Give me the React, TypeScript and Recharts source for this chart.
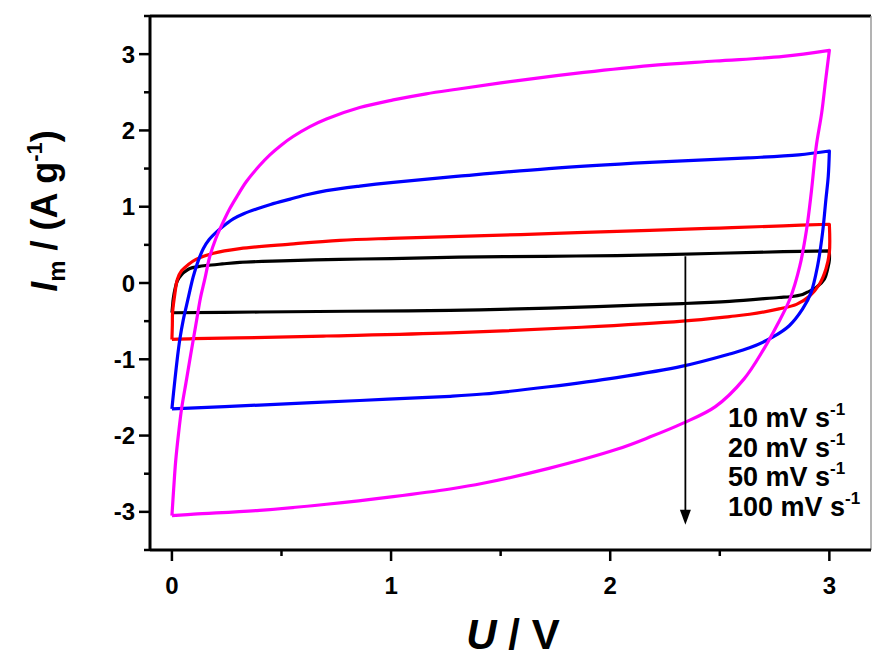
import {
  LineChart,
  Line,
  XAxis,
  YAxis,
  ReferenceLine,
} from "recharts";

// cyclic voltammograms, [U (V), I_m (A/g)], forward scan then reverse scan
const cv10: [number, number][] = [
  [0, -0.39], [0.003, -0.3], [0.006, -0.21], [0.014, -0.08], [0.025, 0.03], [0.044, 0.11],
  [0.06, 0.15], [0.082, 0.19], [0.12, 0.215], [0.158, 0.23], [0.23, 0.25], [0.31, 0.27],
  [0.5, 0.29], [0.766, 0.31], [1.0, 0.32], [1.31, 0.34], [1.7, 0.35], [2.03, 0.36],
  [2.5, 0.39], [2.79, 0.41], [3.0, 0.42],
  [3.0, 0.3], [2.995, 0.22], [2.977, 0.05], [2.94, -0.06], [2.9, -0.12], [2.878, -0.15],
  [2.82, -0.18], [2.77, -0.19], [2.545, -0.24], [2.33, -0.27], [2.03, -0.3], [1.72, -0.33],
  [1.27, -0.36], [0.8, -0.37], [0.4, -0.38], [0, -0.39],
];

const cv20: [number, number][] = [
  [0, -0.74], [0.002, -0.55], [0.003, -0.39], [0.014, -0.13], [0.025, 0.05], [0.044, 0.16],
  [0.074, 0.24], [0.11, 0.31], [0.19, 0.39], [0.31, 0.45], [0.54, 0.51], [0.766, 0.56],
  [1.0, 0.585], [1.31, 0.61], [1.75, 0.65], [2.18, 0.69], [2.5, 0.72], [2.79, 0.75], [3.0, 0.77],
  [3.0, 0.4], [2.984, 0.18], [2.954, -0.02], [2.91, -0.17], [2.85, -0.28], [2.77, -0.34],
  [2.636, -0.41], [2.545, -0.44], [2.33, -0.5], [1.87, -0.58], [1.27, -0.655], [0.705, -0.695],
  [0.3, -0.72], [0.1, -0.73], [0, -0.74],
];

const cv50: [number, number][] = [
  [0, -1.65], [0.007, -1.45], [0.014, -1.26], [0.025, -0.98], [0.036, -0.74], [0.052, -0.48],
  [0.067, -0.29], [0.082, -0.1], [0.097, 0.08], [0.12, 0.29], [0.143, 0.45], [0.17, 0.57],
  [0.204, 0.67], [0.25, 0.78], [0.28, 0.84], [0.33, 0.91], [0.386, 0.97], [0.45, 1.03],
  [0.54, 1.1], [0.62, 1.16], [0.705, 1.21], [0.857, 1.27], [1.01, 1.32], [1.31, 1.4],
  [1.72, 1.5], [2.18, 1.58], [2.63, 1.64], [2.86, 1.68], [3.0, 1.73],
  [2.995, 1.4], [2.984, 1.09], [2.969, 0.66], [2.946, 0.22], [2.916, -0.13], [2.878, -0.34],
  [2.817, -0.56], [2.741, -0.71], [2.636, -0.85], [2.545, -0.93], [2.33, -1.09], [2.03, -1.24],
  [1.72, -1.36], [1.42, -1.455], [1.27, -1.485], [0.857, -1.54], [0.4, -1.6], [0, -1.65],
];

const cv100: [number, number][] = [
  [0, -3.05], [0.008, -2.7], [0.017, -2.34], [0.03, -1.98], [0.044, -1.65], [0.067, -1.26],
  [0.085, -0.95], [0.1, -0.7], [0.115, -0.45], [0.13, -0.2], [0.15, 0.05], [0.173, 0.35],
  [0.2, 0.58], [0.234, 0.8], [0.265, 0.98], [0.3, 1.15], [0.34, 1.33], [0.4, 1.54],
  [0.447, 1.68], [0.5, 1.81], [0.553, 1.92], [0.63, 2.05], [0.705, 2.15], [0.857, 2.3],
  [1.01, 2.4], [1.16, 2.48], [1.3, 2.54], [1.57, 2.65], [1.88, 2.76], [2.18, 2.85],
  [2.48, 2.91], [2.79, 2.97], [3.0, 3.05],
  [2.983, 2.66], [2.965, 2.23], [2.94, 1.79], [2.918, 1.2], [2.896, 0.7], [2.865, 0.22],
  [2.82, -0.21], [2.76, -0.56], [2.7, -0.87], [2.61, -1.26], [2.48, -1.62], [2.33, -1.84],
  [2.18, -2.02], [2.03, -2.18], [1.72, -2.43], [1.42, -2.625], [1.27, -2.7], [1.01, -2.8],
  [0.705, -2.9], [0.4, -2.98], [0.1, -3.03], [0, -3.05],
];

const scanRates = ["10", "20", "50", "100"];
const colors = ["#000000", "#ff0000", "#0000ff", "#ff00ff"];
const loops = [cv10, cv20, cv50, cv100];

const xTicks = [0, 0.5, 1, 1.5, 2, 2.5, 3];
const yTicks = [-3.5, -3, -2.5, -2, -1.5, -1, -0.5, 0, 0.5, 1, 1.5, 2, 2.5, 3, 3.5];

// arrow marking increasing scan rate
const arrowU = 2.343;
const arrowFrom = 0.35;
const arrowTo = -3.17;

const FONT = "'Liberation Sans', Arial, Helvetica, sans-serif";

// centripetal catmull-rom; points where the path turns sharply (scan reversal)
// are kept as real corners so the curve does not bulge past them
function smoothLoop(context: any) {
  let pts: [number, number][] = [];
  const isCorner = (k: number) => {
    if (k <= 0 || k >= pts.length - 1) return true;
    const [ax, ay] = pts[k - 1];
    const [bx, by] = pts[k];
    const [cx, cy] = pts[k + 1];
    const ux = bx - ax, uy = by - ay, vx = cx - bx, vy = cy - by;
    const lu = Math.hypot(ux, uy), lv = Math.hypot(vx, vy);
    if (lu < 1e-6 || lv < 1e-6) return true;
    return (ux * vx + uy * vy) / (lu * lv) < 0.6;
  };
  return {
    areaStart() {},
    areaEnd() {},
    lineStart() {
      pts = [];
    },
    point(x: number, y: number) {
      pts.push([+x, +y]);
    },
    lineEnd() {
      const n = pts.length;
      if (!n) return;
      context.moveTo(pts[0][0], pts[0][1]);
      for (let k = 0; k < n - 1; k++) {
        const p1 = pts[k];
        const p2 = pts[k + 1];
        const p0 = isCorner(k) ? p1 : pts[k - 1];
        const p3 = isCorner(k + 1) ? p2 : pts[k + 2];
        const l01 = Math.hypot(p1[0] - p0[0], p1[1] - p0[1]);
        const l12 = Math.hypot(p2[0] - p1[0], p2[1] - p1[1]);
        const l23 = Math.hypot(p3[0] - p2[0], p3[1] - p2[1]);
        const a01 = Math.sqrt(l01), a12 = Math.sqrt(l12), a23 = Math.sqrt(l23);
        let c1x = p1[0], c1y = p1[1], c2x = p2[0], c2y = p2[1];
        if (a01 > 1e-6) {
          const a = 2 * l01 + 3 * a01 * a12 + l12;
          const m = 3 * a01 * (a01 + a12);
          c1x = (p1[0] * a - p0[0] * l12 + p2[0] * l01) / m;
          c1y = (p1[1] * a - p0[1] * l12 + p2[1] * l01) / m;
        }
        if (a23 > 1e-6) {
          const b = 2 * l23 + 3 * a23 * a12 + l12;
          const m = 3 * a23 * (a23 + a12);
          c2x = (p2[0] * b + p1[0] * l23 - p3[0] * l12) / m;
          c2y = (p2[1] * b + p1[1] * l23 - p3[1] * l12) / m;
        }
        context.bezierCurveTo(c1x, c1y, c2x, c2y, p2[0], p2[1]);
      }
    },
  };
}

function XTick(props: any) {
  const { x, y, payload } = props;
  const v = payload.value as number;
  const major = Number.isInteger(v);
  return (
    <g>
      <line x1={x} y1={y} x2={x} y2={y + (major ? 11 : 6)} stroke="#000" strokeWidth={2.5} />
      {major && (
        <text x={x} y={y + 44} textAnchor="middle" fontFamily={FONT} fontWeight="bold" fontSize={24} fill="#000">
          {v}
        </text>
      )}
    </g>
  );
}

function YTick(props: any) {
  const { x, y, payload } = props;
  const v = payload.value as number;
  const major = Number.isInteger(v);
  return (
    <g>
      <line x1={x - (major ? 11 : 6)} y1={y} x2={x} y2={y} stroke="#000" strokeWidth={2.5} />
      {major && (
        <text x={x - 15} y={y + 8.5} textAnchor="end" fontFamily={FONT} fontWeight="bold" fontSize={24} fill="#000">
          {v}
        </text>
      )}
    </g>
  );
}

function Arrow(props: any) {
  const { x1, y1, x2, y2 } = props;
  return (
    <g>
      <line x1={x1} y1={y1} x2={x2} y2={y2 - 12} stroke="#000" strokeWidth={1.8} />
      <polygon points={`${x2 - 5.5},${y2 - 15} ${x2 + 5.5},${y2 - 15} ${x2},${y2}`} fill="#000" />
    </g>
  );
}

export default function App() {
  return (
    <div style={{ position: "absolute", left: 0, top: 0, width: 872, height: 661, background: "#fff" }}>
      <LineChart width={872} height={661} margin={{ top: 16, right: 1, bottom: 51, left: 70 }}>
        <XAxis
          type="number"
          dataKey="u"
          domain={[-0.1, 3.19]}
          allowDataOverflow
          ticks={xTicks}
          interval={0}
          tickSize={0}
          tickMargin={0}
          tickLine={false}
          tick={<XTick />}
          axisLine={{ stroke: "#000", strokeWidth: 3 }}
          height={60}
        />
        <YAxis
          type="number"
          dataKey="i"
          domain={[-3.5, 3.5]}
          allowDataOverflow
          ticks={yTicks}
          interval={0}
          tickSize={0}
          tickMargin={0}
          tickLine={false}
          tick={<YTick />}
          axisLine={{ stroke: "#000", strokeWidth: 3 }}
          width={80}
        />
        <ReferenceLine y={3.5} stroke="#000" strokeWidth={3} />
        <ReferenceLine x={3.19} stroke="#9a9a9a" strokeWidth={1.5} />
        {loops.map((loop, k) => (
          <Line
            key={scanRates[k]}
            data={loop.map(([u, i]) => ({ u, i }))}
            dataKey="i"
            type={smoothLoop as any}
            stroke={colors[k]}
            strokeWidth={3.2}
            strokeLinejoin="round"
            dot={false}
            isAnimationActive={false}
          />
        ))}
        <ReferenceLine
          segment={[{ x: arrowU, y: arrowFrom }, { x: arrowU, y: arrowTo }]}
          shape={<Arrow />}
        />
      </LineChart>
      <svg
        width={872}
        height={661}
        style={{ position: "absolute", left: 0, top: 0, pointerEvents: "none" }}
        fontFamily={FONT}
        fontWeight="bold"
      >
        {scanRates.map((r, k) => (
          <text key={r} x={728} y={427 + k * 29.7} fontSize={27} fill="#000">
            {r} mV s
            <tspan fontSize={17} dy={-12}>-1</tspan>
          </text>
        ))}
        <text x={513} y={649} textAnchor="middle" fontSize={42} fill="#000">
          <tspan fontStyle="italic">U</tspan> / V
        </text>
        <text
          transform="translate(57,211) rotate(-90)"
          textAnchor="middle"
          fontSize={36}
          fill="#000"
        >
          <tspan fontStyle="italic">I</tspan>
          <tspan fontSize={24} dy={8}>m</tspan>
          <tspan dy={-8}> / (A g</tspan>
          <tspan fontSize={22} dy={-15}>-1</tspan>
          <tspan dy={15}>)</tspan>
        </text>
      </svg>
    </div>
  );
}
